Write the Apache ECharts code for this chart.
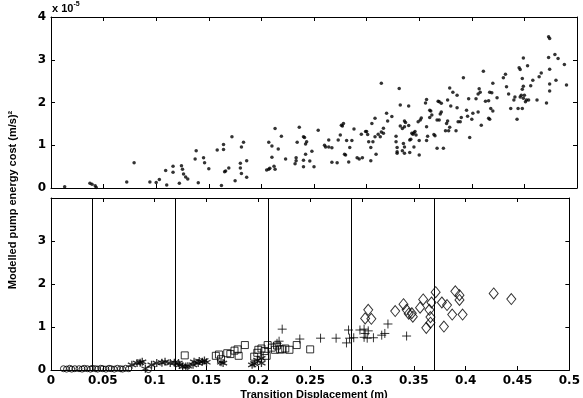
<!DOCTYPE html>
<html lang="en">
<head>
  <meta charset="UTF-8">
  <script src="https://cdn.jsdelivr.net/npm/echarts@6/dist/echarts.min.js"></script>
  <title>Pump energy cost</title>
</head>
<body>
  <div id="chart"></div>
</body>
<style>
  html,body{
    padding: 0;
    margin: 0;
    width: 583px;
    height: 398px;
    background: #fff;
  }
  #chart {
    width: 583px;
    height: 398px;
  }
</style>
</html>
<script>
// x in metres, y in units of 1e-5 (m/s)^2
const allPoints = [
  [0.013,0.03],[0.037,0.11],[0.039,0.09],[0.042,0.05],[0.043,0.01],
  [0.072,0.14],[0.079,0.59],[0.094,0.14],[0.100,0.13],[0.103,0.20],
  [0.109,0.41],[0.110,0.07],[0.116,0.51],[0.116,0.37],[0.122,0.11],
  [0.124,0.52],[0.125,0.44],[0.126,0.33],[0.128,0.26],[0.130,0.21],
  [0.137,0.68],[0.138,0.87],[0.140,0.12],[0.145,0.71],[0.146,0.59],[0.150,0.45],
  [0.158,0.89],[0.164,1.02],[0.164,0.90],[0.162,0.06],[0.165,0.38],[0.166,0.40],[0.169,0.47],
  [0.172,1.20],[0.175,0.17],[0.180,0.58],[0.180,0.47],[0.181,0.34],[0.181,0.96],[0.183,1.07],
  [0.186,0.64],[0.186,0.25],[0.205,0.42],[0.207,0.44],[0.208,0.46],[0.212,0.51],[0.213,0.44],
  [0.207,1.07],[0.210,0.98],[0.210,0.72],[0.213,1.39],[0.216,0.91],[0.219,1.21],[0.223,0.68],
  [0.232,0.57],[0.233,0.64],[0.233,0.71],[0.234,1.07],[0.236,1.42],[0.240,1.20],[0.241,1.18],
  [0.240,0.65],[0.240,0.50],[0.242,1.03],[0.243,1.08],[0.242,0.79],[0.246,0.63],[0.248,0.86],
  [0.250,0.50],[0.254,1.35],[0.260,1.00],[0.261,0.96],[0.264,1.12],[0.264,0.96],[0.267,0.94],
  [0.267,0.60],[0.272,0.59],[0.273,1.12],[0.275,1.24],[0.276,1.47],[0.278,1.51],[0.279,0.79],
  [0.277,1.45],[0.281,1.11],[0.286,1.11],[0.284,0.95],[0.288,1.38],[0.280,0.77],[0.283,0.61],
  [0.291,0.71],[0.293,0.68],[0.296,0.71],[0.295,1.26],[0.299,1.32],[0.300,1.32],[0.301,1.25],
  [0.305,1.51],[0.302,1.08],[0.306,1.08],[0.304,0.95],[0.308,1.63],[0.304,0.64],[0.309,0.79],
  [0.308,1.20],[0.311,1.26],[0.313,1.20],[0.314,1.31],[0.316,1.40],[0.316,1.28],[0.314,2.45],
  [0.319,1.75],[0.320,1.57],[0.324,1.67],[0.328,1.21],[0.328,1.08],[0.329,0.95],[0.329,0.85],
  [0.329,0.81],[0.331,2.33],[0.332,1.94],[0.332,1.45],[0.334,1.39],[0.336,1.57],[0.336,1.43],
  [0.337,1.53],[0.340,1.46],[0.341,1.12],[0.343,1.28],[0.344,1.26],[0.342,1.14],[0.345,1.29],
  [0.345,0.96],[0.346,1.32],[0.335,1.04],[0.336,0.96],[0.334,0.87],[0.336,0.81],[0.341,0.83],
  [0.340,1.92],[0.349,1.55],[0.351,1.59],[0.352,1.64],[0.350,1.11],[0.350,0.77],[0.347,1.24],
  [0.356,1.99],[0.357,2.07],[0.357,1.43],[0.358,1.21],[0.357,1.11],[0.360,1.65],[0.360,1.82],
  [0.361,1.80],[0.362,1.71],[0.364,1.25],[0.365,1.22],[0.367,0.93],[0.373,0.93],[0.368,2.03],
  [0.369,2.02],[0.371,1.98],[0.367,1.59],[0.369,1.59],[0.370,1.73],[0.371,1.78],[0.376,1.51],
  [0.377,1.57],[0.375,1.34],[0.378,1.34],[0.379,1.42],[0.379,2.34],[0.382,2.24],[0.386,2.17],
  [0.377,2.06],[0.380,1.92],[0.386,1.88],[0.387,1.55],[0.385,1.34],
  [0.392,2.58],[0.389,1.55],[0.390,1.65],[0.398,1.18],[0.395,1.82],[0.396,1.68],[0.397,2.09],
  [0.401,1.75],[0.400,1.61],[0.404,2.09],[0.406,2.20],[0.407,2.32],[0.408,2.24],[0.406,1.78],
  [0.409,1.47],[0.411,2.73],[0.413,2.03],[0.416,2.04],[0.416,1.63],[0.417,1.61],[0.418,1.86],
  [0.420,1.80],[0.417,2.24],[0.419,2.23],[0.420,2.45],[0.424,2.11],[0.430,2.58],[0.432,2.66],
  [0.433,2.37],[0.435,2.20],[0.437,1.86],[0.440,2.06],[0.441,2.13],[0.443,1.61],[0.444,1.86],
  [0.446,2.13],[0.447,2.17],[0.449,2.10],[0.448,2.31],[0.450,2.17],[0.451,2.02],[0.452,2.06],
  [0.449,2.38],[0.448,2.56],[0.446,2.77],[0.445,2.81],[0.449,3.04],[0.453,2.86],[0.448,1.86],
  [0.454,2.06],[0.456,2.39],[0.458,2.52],[0.462,2.06],[0.464,2.60],[0.466,2.69],[0.471,1.99],
  [0.473,3.05],[0.474,2.78],[0.474,2.43],[0.474,2.27],[0.473,3.54],[0.474,3.50],[0.479,3.12],
  [0.482,3.03],[0.480,2.52],[0.488,2.89],[0.490,2.41]
];

const circlePoints = [
  [0.012,0.03],[0.015,0.02],[0.018,0.04],[0.020,0.02],[0.023,0.03],[0.027,0.03],[0.030,0.02],
  [0.032,0.04],[0.035,0.03],[0.038,0.02],[0.040,0.04],[0.043,0.03],[0.045,0.02],[0.048,0.04],
  [0.050,0.03],[0.053,0.02],[0.056,0.04],[0.058,0.03],[0.061,0.02],[0.064,0.04],[0.067,0.03],
  [0.069,0.02],[0.072,0.04],[0.075,0.03],[0.094,0.01]
];
const starPoints = [
  [0.078,0.12],[0.083,0.16],[0.086,0.17],[0.088,0.19],[0.091,0.03],[0.097,0.12],[0.102,0.16],
  [0.107,0.17],[0.110,0.19],[0.115,0.16],[0.119,0.17],[0.123,0.16],[0.124,0.12],[0.127,0.08],
  [0.130,0.08],[0.132,0.09],[0.137,0.12],[0.138,0.19],[0.142,0.16],[0.143,0.21],[0.146,0.19],
  [0.148,0.22],[0.150,0.18],[0.164,0.18],[0.166,0.16],[0.194,0.12],[0.196,0.15],[0.199,0.23],
  [0.203,0.16],[0.203,0.27]
];
const squarePoints = [
  [0.129,0.34],[0.159,0.33],[0.162,0.36],[0.164,0.25],[0.170,0.39],[0.173,0.37],[0.177,0.45],
  [0.180,0.48],[0.181,0.33],[0.187,0.58],[0.196,0.31],[0.199,0.40],[0.200,0.47],[0.203,0.50],
  [0.206,0.44],[0.208,0.33],[0.209,0.58],[0.213,0.52],[0.216,0.47],[0.218,0.57],[0.221,0.48],
  [0.223,0.48],[0.226,0.50],[0.230,0.47],[0.237,0.58],[0.250,0.48]
];
const plusPoints = [
  [0.218,0.62],[0.220,0.67],[0.223,0.95],[0.240,0.72],[0.260,0.74],[0.275,0.74],[0.285,0.63],
  [0.287,0.93],[0.288,0.74],[0.292,0.75],[0.298,0.93],[0.302,0.95],[0.302,0.76],[0.303,0.85],
  [0.305,0.74],[0.306,0.91],[0.311,0.75],[0.319,0.81],[0.322,0.85],[0.325,1.07],[0.343,0.79]
];
const diamondPoints = [
  [0.303,1.20],[0.306,1.40],[0.309,1.19],[0.332,1.37],[0.340,1.53],[0.343,1.40],[0.345,1.31],
  [0.348,1.32],[0.349,1.24],[0.356,1.45],[0.359,1.64],[0.362,0.98],[0.365,1.40],[0.366,1.23],
  [0.366,1.10],[0.367,1.57],[0.371,1.81],[0.377,1.57],[0.379,1.01],[0.382,1.51],[0.387,1.29],
  [0.390,1.83],[0.394,1.74],[0.394,1.63],[0.397,1.29],[0.427,1.78],[0.444,1.65]
];
// class boundaries (m)
const boundaries = [0.040, 0.124, 0.206, 0.290, 0.373];

const labelFont = { color: '#000', fontSize: 12, fontWeight: 'bold', fontFamily: 'DejaVu Sans' };
const blackLine = { show: true, onZero: false, lineStyle: { color: '#000', width: 1 } };
const tick = { show: true, inside: true, length: 4, lineStyle: { color: '#000' } };

function xAx(grid, pos, showLabel) {
  return {
    type: 'value', gridIndex: grid, position: pos, min: 0, max: 0.5, interval: 0.05,
    axisLine: blackLine, axisTick: tick, splitLine: { show: false },
    axisLabel: Object.assign({ show: showLabel, margin: 5, formatter: v => String(+v.toFixed(2)) }, labelFont)
  };
}
function yAx(grid, pos, showLabel, hideTop) {
  return {
    type: 'value', gridIndex: grid, position: pos, min: 0, max: 4, interval: 1,
    axisLine: blackLine, axisTick: tick, splitLine: { show: false },
    axisLabel: Object.assign({ show: showLabel, margin: 5,
      formatter: v => (hideTop && v === 4) ? '' : String(v) }, labelFont)
  };
}

const openStyle = { color: 'transparent', borderColor: '#000', borderWidth: 1 };

const option = {
  animation: false,
  backgroundColor: '#fff',
  grid: [
    { left: 51, right: 6, top: 17, height: 171 },
    { left: 51, right: 6, top: 198, height: 172 }
  ],
  xAxis: [
    xAx(0, 'bottom', false), xAx(0, 'top', false),
    xAx(1, 'bottom', true), xAx(1, 'top', false)
  ],
  yAxis: [
    yAx(0, 'left', true, false), yAx(0, 'right', false, false),
    yAx(1, 'left', true, true), yAx(1, 'right', false, false)
  ],
  graphic: [
    { type: 'text', left: 52, top: 1, style: { rich: { a: { fontSize: 11, fontWeight: 'bold', fontFamily: 'Liberation Sans' }, s: { fontSize: 7, fontWeight: 'bold', verticalAlign: 'top', padding: [0, 0, 8, 0] } }, text: '{a|x 10}{s|-5}' } },
    { type: 'text', x: 13, y: 200, rotation: Math.PI / 2,
      style: { text: 'Modelled pump energy cost (m/s)\u00b2', fontSize: 11, fontWeight: 'bold', fontFamily: 'Liberation Sans', fill: '#000', align: 'center', verticalAlign: 'middle' } },
    { type: 'text', x: 314, y: 389,
      style: { text: 'Transition Displacement (m)', fontSize: 11, fontWeight: 'bold', fontFamily: 'Liberation Sans', fill: '#000', align: 'center' } }
  ],
  series: [
    { type: 'scatter', xAxisIndex: 0, yAxisIndex: 0, data: allPoints, symbol: 'circle', symbolSize: 3.5,
      itemStyle: { color: '#000' } },
    { type: 'scatter', xAxisIndex: 2, yAxisIndex: 2, data: circlePoints, symbol: 'circle', symbolSize: 6,
      itemStyle: openStyle,
      markLine: {
        silent: true, symbol: 'none', label: { show: false },
        lineStyle: { color: '#000', width: 1, type: 'solid' },
        data: boundaries.map(b => ({ xAxis: b }))
      } },
    { type: 'scatter', xAxisIndex: 2, yAxisIndex: 2, data: starPoints,
      symbol: 'path://M5 0L5 10M0.7 2.5L9.3 7.5M0.7 7.5L9.3 2.5', symbolSize: 8,
      itemStyle: { color: 'transparent', borderColor: '#000', borderWidth: 1.3 } },
    { type: 'scatter', xAxisIndex: 2, yAxisIndex: 2, data: squarePoints, symbol: 'rect', symbolSize: 7,
      itemStyle: openStyle },
    { type: 'scatter', xAxisIndex: 2, yAxisIndex: 2, data: plusPoints,
      symbol: 'path://M5 0L5 10M0 5L10 5', symbolSize: 9,
      itemStyle: { color: 'transparent', borderColor: '#000', borderWidth: 1 } },
    { type: 'scatter', xAxisIndex: 2, yAxisIndex: 2, data: diamondPoints, symbol: 'diamond', symbolSize: [9, 11],
      itemStyle: openStyle }
  ]
};

const myChart = echarts.init(document.getElementById('chart'));
myChart.setOption(option);
</script>
